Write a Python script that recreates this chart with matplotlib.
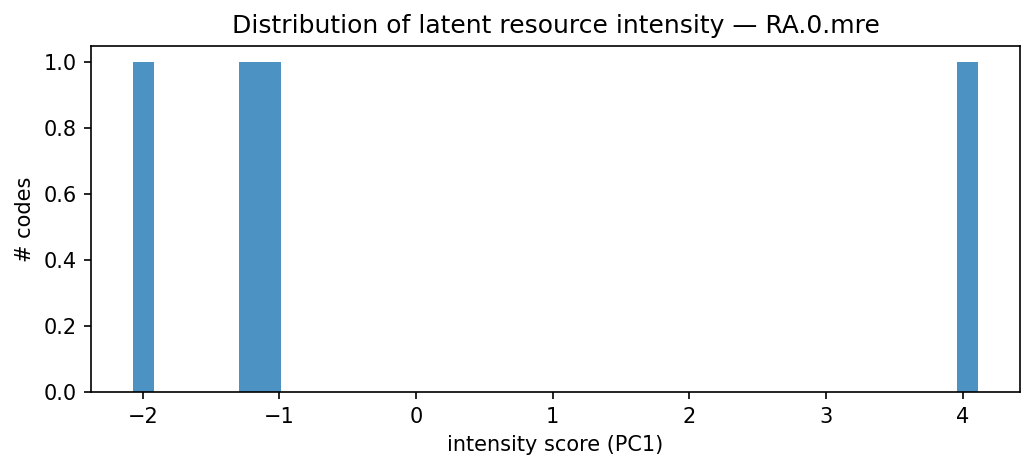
import matplotlib
matplotlib.use("Agg")
import matplotlib.pyplot as plt

scores = [-2.07, -1.22, -1.06, 4.11]

fig = plt.figure(figsize=(1036/150, 470/150), dpi=150)
ax = fig.add_axes([91/1036, 1-392/470, (1020-91)/1036, (392-46)/470])
ax.hist(scores, bins=40, color="C0", alpha=0.8)
ax.set_title("Distribution of latent resource intensity — RA.0.mre")
ax.set_xlabel("intensity score (PC1)")
ax.set_ylabel("# codes")
fig.savefig("out.png", dpi=150)
